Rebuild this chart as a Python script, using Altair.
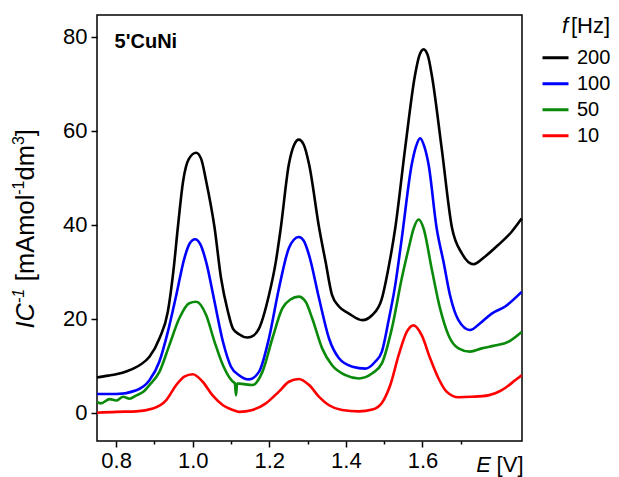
import altair as alt
import pandas as pd

# ---- data ----
black_x = [0.75, 0.78, 0.80, 0.83, 0.861, 0.887, 0.913, 0.935, 0.950, 0.961, 0.975, 0.990, 1.009, 1.022, 1.035,
           1.057, 1.074, 1.092, 1.105, 1.121, 1.143, 1.160, 1.173, 1.199, 1.217, 1.230, 1.251, 1.265, 1.277,
           1.290, 1.304, 1.330, 1.347, 1.364, 1.382, 1.408, 1.443, 1.469, 1.494, 1.511, 1.529, 1.555, 1.581,
           1.592, 1.603, 1.614, 1.624, 1.650, 1.677, 1.703, 1.733, 1.763, 1.798, 1.833, 1.859]
black_y = [7.5, 7.9, 8.2, 8.9, 10.1, 11.9, 15.8, 21.5, 30.5, 39.3, 49.3, 54.0, 55.3, 54.0, 49.3,
           39.4, 28.6, 21.5, 17.9, 16.7, 16.0, 16.5, 17.9, 25.0, 32.1, 39.3, 52.8, 57.0, 58.1,
           57.0, 52.8, 39.4, 32.1, 25.0, 22.6, 21.1, 19.7, 20.8, 24.3, 30.7, 39.3, 56.4, 72.0,
           76.0, 77.3, 76.0, 72.0, 56.4, 39.4, 33.9, 31.6, 33.2, 35.7, 38.5, 41.3]

blue_x = [0.75, 0.80, 0.853, 0.887, 0.913, 0.935, 0.957, 0.978, 0.992, 1.006, 1.020, 1.035, 1.057, 1.079,
          1.100, 1.121, 1.147, 1.173, 1.199, 1.225, 1.251, 1.264, 1.277, 1.290, 1.304, 1.330, 1.356, 1.382,
          1.417, 1.451, 1.477, 1.494, 1.511, 1.529, 1.546, 1.572, 1.583, 1.594, 1.605, 1.616, 1.637, 1.655,
          1.672, 1.694, 1.724, 1.750, 1.781, 1.816, 1.859]
blue_y = [4.0, 4.0, 4.8, 6.9, 10.9, 17.2, 25.0, 32.8, 36.0, 36.9, 35.8, 32.1, 23.6, 15.1,
          9.8, 8.0, 7.1, 8.7, 15.8, 26.4, 35.0, 36.8, 37.4, 36.6, 33.5, 24.3, 15.8, 11.6,
          9.8, 9.4, 10.9, 13.0, 19.4, 27.2, 37.1, 52.8, 56.6, 58.4, 56.6, 52.8, 39.3, 32.1,
          25.0, 19.7, 17.6, 19.0, 21.1, 22.6, 25.7]

green_x = [0.75, 0.76, 0.783, 0.80, 0.818, 0.835, 0.853, 0.87, 0.887, 0.913, 0.939, 0.965, 0.991, 1.009,
           1.035, 1.057, 1.079, 1.105, 1.110, 1.113, 1.116, 1.121, 1.156, 1.182, 1.208, 1.234, 1.255,
           1.277, 1.295, 1.312, 1.338, 1.364, 1.399, 1.434, 1.469, 1.494, 1.520, 1.546, 1.564, 1.577,
           1.590, 1.603, 1.624, 1.646, 1.668, 1.694, 1.724, 1.755, 1.789, 1.824, 1.859]
green_y = [2.3, 2.0, 2.9, 2.6, 3.4, 3.0, 3.7, 4.4, 5.9, 8.7, 14.4, 20.1, 23.3, 23.6,
           20.8, 15.1, 10.1, 6.6, 6.3, 3.7, 6.2, 6.2, 5.9, 8.7, 15.8, 22.2, 24.1,
           24.7, 23.6, 20.1, 13.7, 10.1, 8.0, 7.3, 8.4, 10.5, 17.9, 28.6, 35.0, 39.2,
           41.1, 39.2, 30.7, 22.2, 16.5, 13.7, 13.0, 13.7, 14.3, 15.1, 17.2]

red_x = [0.75, 0.80, 0.853, 0.896, 0.931, 0.957, 0.978, 1.000, 1.026, 1.052, 1.079, 1.105, 1.121, 1.156,
         1.191, 1.225, 1.251, 1.277, 1.304, 1.330, 1.356, 1.390, 1.434, 1.469, 1.494, 1.516, 1.538,
         1.559, 1.577, 1.598, 1.620, 1.642, 1.663, 1.694, 1.729, 1.772, 1.807, 1.842, 1.859]
red_y = [0.0, 0.2, 0.3, 0.9, 2.7, 5.9, 7.7, 8.2, 6.6, 3.7, 1.6, 0.6, 0.2, 0.6,
         2.0, 4.5, 6.6, 7.2, 5.9, 3.4, 1.6, 0.6, 0.3, 0.7, 2.1, 5.9, 12.3,
         17.2, 18.6, 16.5, 11.6, 7.3, 4.5, 3.3, 3.4, 3.7, 4.8, 6.9, 8.0]

freqs = ["200", "100", "50", "10"]
colors = ["#000000", "#0000ff", "#0a8a0a", "#ff0000"]
x_ticks = [0.8, 0.9, 1.0, 1.1, 1.2, 1.3, 1.4, 1.5, 1.6, 1.7]
y_ticks = [0, 20, 40, 60, 80]

series = {"200": (black_x, black_y), "100": (blue_x, blue_y),
          "50": (green_x, green_y), "10": (red_x, red_y)}
rows = []
for f, (xs, ys) in series.items():
    for xv, yv in zip(xs, ys):
        rows.append({"E": xv, "C": yv, "f": f})
df = pd.DataFrame(rows)

FONT = "Liberation Sans"
W, H = 425, 426

lines = alt.Chart(df).mark_line(strokeWidth=2.6, interpolate="monotone").encode(
    x=alt.X("E:Q",
            scale=alt.Scale(domain=[0.75, 1.86], nice=False, zero=False),
            axis=alt.Axis(values=x_ticks, title=None, grid=False, domain=False,
                          labelExpr="round(datum.value*10) % 2 == 0 ? format(datum.value, '.1f') : ''",
                          tickSize={"condition": {"test": "round(datum.value*10) % 2 == 0", "value": 6},
                                    "value": 3},
                          labelPadding=3)),
    y=alt.Y("C:Q",
            scale=alt.Scale(domain=[-6, 84.6], nice=False, zero=False),
            axis=alt.Axis(values=y_ticks, format="d", title=None, grid=False, domain=False,
                          tickSize=6, labelPadding=4)),
    color=alt.Color("f:N", sort=freqs,
                    scale=alt.Scale(domain=freqs, range=colors),
                    legend=alt.Legend(orient="none", legendX=444, legendY=30, title=None,
                                      symbolType="stroke", symbolSize=676, symbolStrokeWidth=3,
                                      labelFont=FONT, labelFontSize=20, labelOffset=7,
                                      clipHeight=25.6, rowPadding=0, padding=0)),
)

def txt(s, x, y, **kw):
    return alt.Chart(pd.DataFrame({"t": [s]})).mark_text(font=FONT, color="black", **kw).encode(
        x=alt.value(x), y=alt.value(y), text="t:N")

# y-axis title built from pieces (italic symbol, superscripts), laid out with Arial advance widths
ADV = {"I": 0.278, "C": 0.722, "-": 0.333, "1": 0.556, " ": 0.278, "[": 0.278, "m": 0.833,
       "A": 0.667, "o": 0.556, "l": 0.222, "d": 0.556, "3": 0.556, "]": 0.278}
F_MAIN, F_SUP, RAISE = 25.5, 16, 10
# (text, font size, style, raise, gap before in em of main font)
pieces = [("IC", F_MAIN, "italic", 0, 0), ("-1", F_SUP, "italic", RAISE, 0),
          ("[mAmol", F_MAIN, "normal", 0, 0.3), ("-1", F_SUP, "normal", RAISE, 0),
          ("dm", F_MAIN, "normal", 0, 0), ("3", F_SUP, "normal", RAISE, 0), ("]", F_MAIN, "normal", 0, 0)]
ybase_x, ypos = -63, 313.5
ytitle = []
for s, fs, style, raise_, gap in pieces:
    ypos -= gap * F_MAIN
    ytitle.append(txt(s, ybase_x - raise_, ypos, fontSize=fs, fontStyle=style, angle=270,
                      align="left", baseline="alphabetic"))
    ypos -= sum(ADV[c] for c in s) * fs

label = txt("5'CuNi", 17.6, 32.8, fontSize=20, fontWeight="bold", align="left", baseline="alphabetic")
xtitle1 = txt("E", 394, 457, fontSize=22, fontStyle="italic", align="right", baseline="alphabetic")
xtitle2 = txt("[V]", 426.5, 457, fontSize=22, align="right", baseline="alphabetic")
ltitle1 = txt("f", 471, 17.8, fontSize=22, fontStyle="italic", align="right", baseline="alphabetic")
ltitle2 = txt("[Hz]", 513, 17.8, fontSize=22, align="right", baseline="alphabetic")

chart = alt.layer(lines, label, *ytitle, xtitle1, xtitle2, ltitle1, ltitle2).properties(
    width=W, height=H,
    autosize=alt.AutoSizeParams(type="none"),
    padding={"left": 89, "top": 7, "right": 89, "bottom": 40},
).configure_view(stroke="black", strokeWidth=1.5).configure_axis(
    labelFont=FONT, labelFontSize=22, labelColor="black", tickColor="black", tickWidth=1.5
)

chart.save("out.html", embed_options={"renderer": "svg", "actions": False})
